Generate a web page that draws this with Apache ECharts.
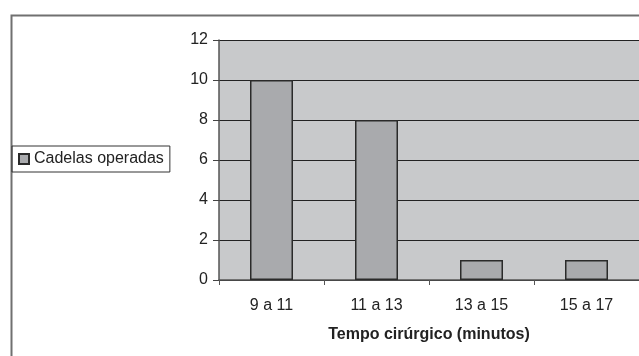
<!DOCTYPE html>
<html>
<head>
<meta charset="utf-8">
<script src="https://cdn.jsdelivr.net/npm/echarts@6/dist/echarts.min.js"></script>
<style>
  html, body { margin: 0; padding: 0; background: #fff; }
  #chart { width: 639px; height: 356px; }
</style>
</head>
<body>
<div id="chart"></div>
<script>
// Surgical time intervals (minutes) and number of operated dogs in each
const categories = ['9 a 11', '11 a 13', '13 a 15', '15 a 17'];
const cadelasOperadas = [10, 8, 1, 1];
const yTicks = { min: 0, max: 12, interval: 2 };

const FONT = '"Liberation Sans", Arial, sans-serif';
const chart = echarts.init(document.getElementById('chart'));

chart.setOption({
  backgroundColor: '#ffffff',
  animation: false,
  textStyle: { fontFamily: FONT },
  graphic: [{
    type: 'rect',
    left: 9, top: 13,
    shape: { width: 700, height: 400 },
    style: { fill: 'none', stroke: '#707070', lineWidth: 2 },
    z: -10, silent: true
  }],
  legend: {
    left: 12, top: 146,
    orient: 'vertical',
    data: ['Cadelas operadas'],
    icon: 'rect',
    itemWidth: 10, itemHeight: 10,
    itemGap: 4,
    padding: [5, 6, 5, 6],
    borderColor: '#333333', borderWidth: 1,
    textStyle: { fontSize: 16, color: '#222222', fontFamily: FONT, padding: [0, 0, 0, 0] }
  },
  grid: {
    left: 219, top: 40, right: 0, height: 240,
    show: true, backgroundColor: '#c8c9cb', borderWidth: 0,
    outerBoundsMode: 'none', containLabel: false
  },
  xAxis: {
    type: 'category',
    data: categories,
    axisLine: { lineStyle: { color: '#555555', width: 1.5 } },
    axisTick: { show: true, length: 5, lineStyle: { color: '#555555' } },
    axisLabel: { fontSize: 16, color: '#222222', margin: 18, fontFamily: FONT },
    name: 'Tempo cirúrgico (minutos)',
    nameLocation: 'middle',
    nameGap: 47,
    nameTextStyle: { fontSize: 16, fontWeight: 'bold', color: '#222222', fontFamily: FONT }
  },
  yAxis: {
    type: 'value',
    min: yTicks.min, max: yTicks.max, interval: yTicks.interval,
    axisLine: { show: true, lineStyle: { color: '#555555', width: 1.5 } },
    axisTick: { show: true, length: 6, lineStyle: { color: '#444444' } },
    axisLabel: { fontSize: 16, color: '#222222', margin: 11, fontFamily: FONT },
    splitLine: { show: true, lineStyle: { color: '#222222', width: 1 } }
  },
  series: [{
    name: 'Cadelas operadas',
    type: 'bar',
    data: cadelasOperadas,
    barWidth: 43,
    itemStyle: { color: '#a9aaad', borderColor: '#2a2a2a', borderWidth: 1.5 }
  }]
});
</script>
</body>
</html>
